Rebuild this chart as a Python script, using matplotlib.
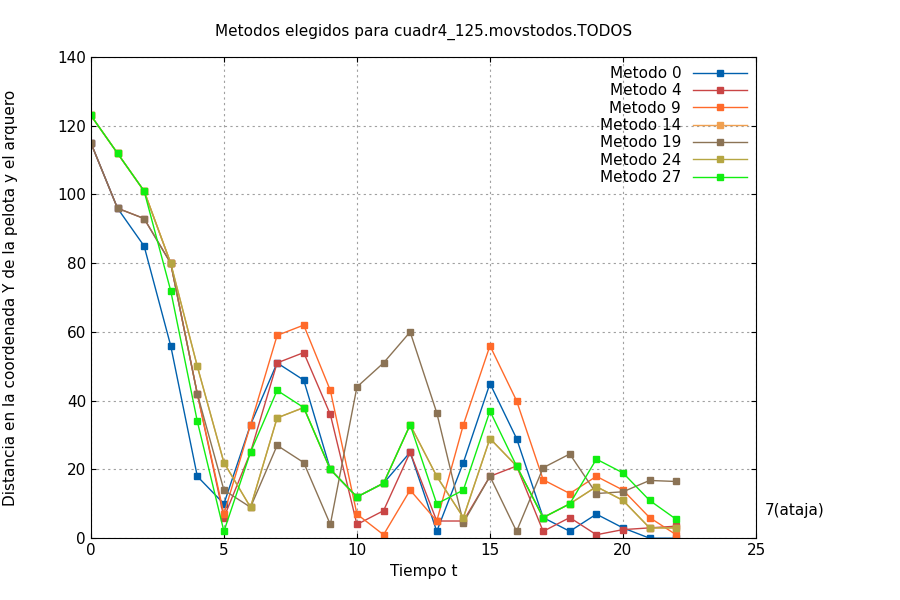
import matplotlib
matplotlib.use("Agg")
import matplotlib.pyplot as plt

t = list(range(23))
m0 = [115, 96, 85, 56, 18, 10, 33, 51, 46, 20, 12, 16, 25, 2, 22, 45, 29, 6, 2, 7, 3, 0, 0]
m4 = [115, 96, 93, 80, 42, 6, 25, 51, 54, 36, 4, 8, 25, 5, 5, 18, 21, 2, 6, 1, 2.5, 3, 3.5]
m9 = [123, 112, 101, 80, 42, 7, 33, 59, 62, 43, 7, 1, 14, 5, 33, 56, 40, 17, 13, 18, 14, 6, 1]
m14 = [123, 112, 101, 80, 50, 22, 9, 35, 38, 20, 12, 16, 33, 18, 6, 29, 21, 6, 10, 15, 11, 3, 3]
m19 = [115, 96, 93, 80, 42, 14, 9, 27, 22, 4, 44, 51, 60, 36.5, 4.5, 18, 2, 20.5, 24.5, 13, 13.5, 16.8, 16.5]
m24 = [123, 112, 101, 80, 50, 22, 9, 35, 38, 20, 12, 16, 33, 18, 6, 29, 21, 6, 10, 15, 11, 3, 3]
m27 = [123, 112, 101, 72, 34, 2, 25, 43, 38, 20, 12, 16, 33, 10, 14, 37, 21, 6, 10, 23, 19, 11, 5.5]

series = [("Metodo 0", m0, "#0060ad"), ("Metodo 4", m4, "#c94545"),
          ("Metodo 9", m9, "#ff6a2a"), ("Metodo 14", m14, "#f0a050"),
          ("Metodo 19", m19, "#8b7355"), ("Metodo 24", m24, "#b5a642"),
          ("Metodo 27", m27, "#11ee11")]

fig = plt.figure(figsize=(9, 6), dpi=100)
ax = fig.add_axes([0.101, 0.103, 0.739, 0.802])
for name, vals, c in series:
    ax.plot(t, vals, '-s', color=c, lw=1, ms=4, label=name)

ax.set_xlim(0, 25)
ax.set_ylim(0, 140)
ax.set_xticks(range(0, 26, 5))
ax.set_yticks(range(0, 141, 20))
ax.grid(True, color='#a0a0a0', linestyle=(0, (2, 3)), lw=0.8)
ax.tick_params(direction='in', labelsize=11, top=True, right=True)
ax.set_xlabel("Tiempo t", fontsize=11)
ax.set_ylabel("Distancia en la coordenada Y de la pelota y el arquero", fontsize=11, labelpad=28)
ax.set_title("Metodos elegidos para cuadr4_125.movstodos.TODOS", fontsize=11, pad=15)
ax.text(1.013, 8, "7(ataja)", transform=ax.get_yaxis_transform(), fontsize=11, va='center')
leg = ax.legend(loc='upper right', frameon=False, fontsize=11, markerfirst=False,
                handlelength=3.5, labelspacing=0.15, borderaxespad=0.2)
for txt in leg.get_texts():
    txt.set_ha('right')
fig.savefig("out.png")
